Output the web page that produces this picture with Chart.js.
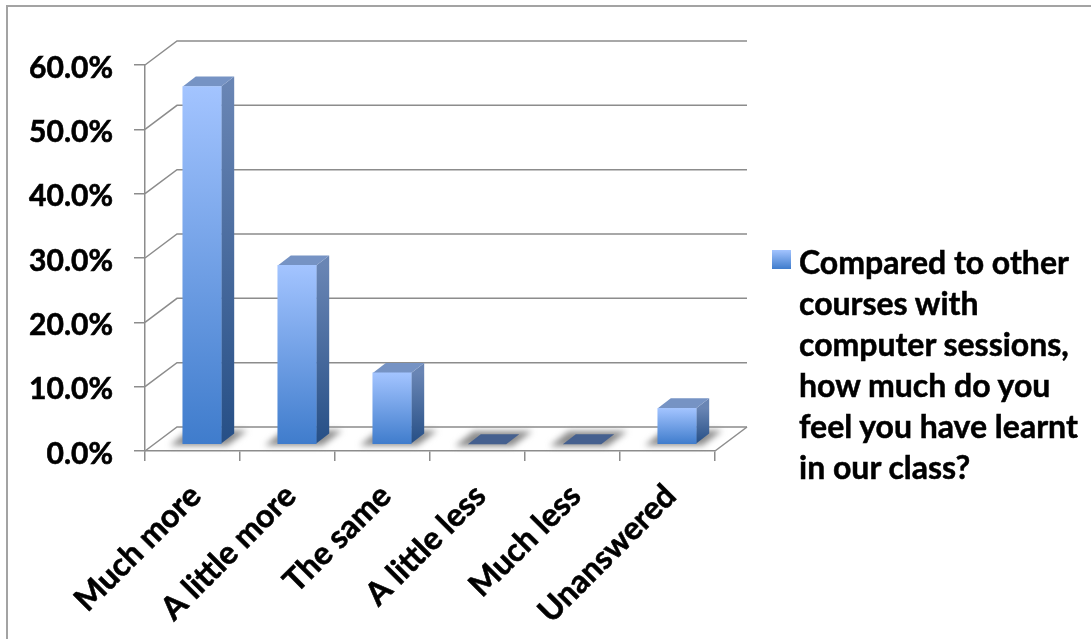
<!DOCTYPE html>
<html>
<head>
<meta charset="utf-8">
<title>Compared to other courses</title>
<script src="https://cdn.jsdelivr.net/npm/chart.js@4"></script>
<style>
    html, body { margin: 0; padding: 0; background: #fff; overflow: hidden; }
    #wrap { position: relative; width: 1091px; height: 639px; }
    #legend { position: absolute; left: 772px; top: 241px; font: bold 32px/41px Lato, sans-serif; color: #000; -webkit-text-stroke: 0.5px #000; }
    #legend i { position: absolute; left: 0; top: 9px; width: 19px; height: 19px; background: linear-gradient(#a3c4ff, #3f7ccc); }
    #legend div { margin-left: 27px; white-space: nowrap; }
</style>
</head>
<body>
<div id="wrap">
    <canvas id="grafico" width="1091" height="639"></canvas>
    <div id="legend"><i></i></div>
</div>
<script>
const categorias = ['Much more', 'A little more', 'The same', 'A little less', 'Much less', 'Unanswered'];
const valores = [55.6, 27.8, 11.1, 0, 0, 5.6];
const leyenda = ['Compared to other', 'courses with', 'computer sessions,', 'how much do you', 'feel you have learnt', 'in our class?'];

const gris = '#8c8c8c';
// 3d look: wall depth, and how far bars sit inside the floor
const fondoX = 32, fondoY = -24;
const barraX = 9.5, barraY = -6.7;
const ladoX = 13, ladoY = -10;

function poligono(ctx, puntos, relleno) {
    ctx.beginPath();
    puntos.forEach((p, i) => i ? ctx.lineTo(p[0], p[1]) : ctx.moveTo(p[0], p[1]));
    ctx.closePath();
    ctx.fillStyle = relleno;
    ctx.fill();
}

const plugin3d = {
    id: 'plugin3d',
    beforeDatasetsDraw(chart) {
        const { ctx, chartArea, scales } = chart;
        const meta = chart.getDatasetMeta(0);

        // marco de la imagen
        ctx.save();
        ctx.strokeStyle = '#a3a3a3';
        ctx.lineWidth = 2;
        ctx.beginPath();
        ctx.moveTo(7, 639);
        ctx.lineTo(7, 6);
        ctx.lineTo(1091, 6);
        ctx.stroke();

        // paredes
        ctx.strokeStyle = gris;
        ctx.lineWidth = 1.5;
        scales.y.ticks.forEach(t => {
            const y = scales.y.getPixelForValue(t.value);
            ctx.beginPath();
            ctx.moveTo(chartArea.left, y);
            ctx.lineTo(chartArea.left + fondoX, y + fondoY);
            ctx.lineTo(chartArea.right + fondoX, y + fondoY);
            ctx.stroke();
        });
        ctx.beginPath();
        ctx.moveTo(chartArea.right, chartArea.bottom);
        ctx.lineTo(chartArea.right + fondoX, chartArea.bottom + fondoY);
        ctx.stroke();

        // sombras en el piso
        ctx.filter = 'blur(3px)';
        meta.data.forEach(bar => {
            const izq = bar.x - bar.width / 2 + barraX;
            const der = bar.x + bar.width / 2 + barraX;
            const base = bar.base + barraY;
            poligono(ctx, [[izq - 13, base + 2], [der + 6, base + 2], [der + 26, base - 13], [izq + 6, base - 13]], '#8a8a8a');
        });
        ctx.filter = 'none';

        // caras lateral y superior
        meta.data.forEach((bar, i) => {
            const izq = bar.x - bar.width / 2 + barraX;
            const der = bar.x + bar.width / 2 + barraX;
            const arriba = bar.y + barraY;
            const base = bar.base + barraY;
            if (valores[i] === 0) {
                poligono(ctx, [[izq, base], [der, base], [der + ladoX, base + ladoY], [izq + ladoX, base + ladoY]], '#45608f');
                return;
            }
            const g = ctx.createLinearGradient(0, arriba, 0, base);
            g.addColorStop(0, '#6985b4');
            g.addColorStop(1, '#264f86');
            poligono(ctx, [[der, arriba], [der + ladoX, arriba + ladoY], [der + ladoX, base + ladoY], [der, base]], g);
            poligono(ctx, [[izq, arriba], [der, arriba], [der + ladoX, arriba + ladoY], [izq + ladoX, arriba + ladoY]], '#7693c4');
        });
        ctx.restore();
    },
    beforeDatasetDraw(chart) {
        chart.ctx.save();
        chart.ctx.translate(barraX, barraY);
    },
    afterDatasetDraw(chart) {
        chart.ctx.restore();
    }
};

new Chart(document.getElementById('grafico').getContext('2d'), {
    type: 'bar',
    data: {
        labels: categorias,
        datasets: [{
            label: leyenda.join(' '),
            data: valores,
            barThickness: 38.4,
            clip: false,
            backgroundColor(c) {
                const { chart, dataIndex } = c;
                if (!chart.chartArea || dataIndex === undefined) return '#4f81bd';
                const y = chart.scales.y;
                const g = chart.ctx.createLinearGradient(0, y.getPixelForValue(valores[dataIndex]), 0, y.getPixelForValue(0));
                g.addColorStop(0, '#a3c4ff');
                g.addColorStop(1, '#3f7ccc');
                return g;
            }
        }]
    },
    plugins: [plugin3d],
    options: {
        responsive: false,
        animation: false,
        layout: { padding: { top: 65, right: 376 } },
        plugins: {
            legend: { display: false },
            tooltip: { enabled: false }
        },
        scales: {
            x: {
                afterFit(s) { s.height = 188; },
                border: { color: gris, width: 1.5 },
                grid: { drawOnChartArea: false, color: gris, lineWidth: 1.5, tickLength: 10 },
                ticks: {
                    autoSkip: false,
                    minRotation: 45,
                    maxRotation: 45,
                    padding: 16,
                    labelOffset: 3,
                    color: '#000',
                    textStrokeColor: '#000',
                    textStrokeWidth: 0.6,
                    font: { family: 'Lato', weight: 'bold', size: 32 }
                }
            },
            y: {
                min: 0,
                max: 60,
                afterFit(s) { s.width = 145; },
                border: { color: gris, width: 1.5 },
                grid: { drawOnChartArea: false, color: gris, lineWidth: 1.5, tickLength: 11 },
                ticks: {
                    stepSize: 10,
                    padding: 21,
                    labelOffset: 3,
                    color: '#000',
                    textStrokeColor: '#000',
                    textStrokeWidth: 0.6,
                    font: { family: 'Lato', weight: 'bold', size: 30 },
                    callback: v => v.toFixed(1) + '%'
                }
            }
        }
    }
});

const cajaLeyenda = document.getElementById('legend');
leyenda.forEach(linea => {
    const d = document.createElement('div');
    d.textContent = linea;
    cajaLeyenda.appendChild(d);
});
</script>
</body>
</html>
